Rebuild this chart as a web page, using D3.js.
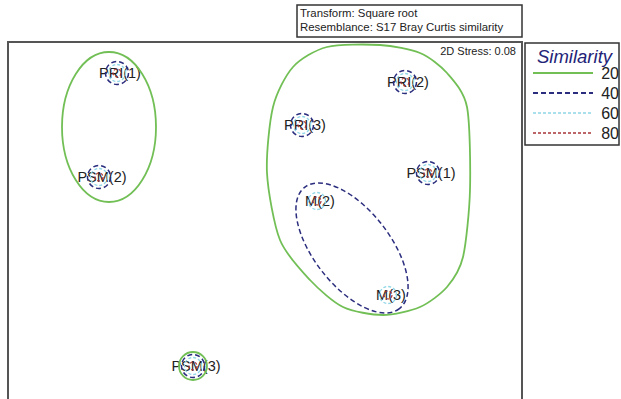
<!DOCTYPE html>
<html>
<head>
<meta charset="utf-8">
<script src="https://cdn.jsdelivr.net/npm/d3@7"></script>
<style>
  html, body { margin: 0; padding: 0; background: #fff; }
  svg { display: block; font-family: "Liberation Sans", Arial, sans-serif; }
</style>
</head>
<body>
<svg id="chart" width="621" height="399"></svg>
<script>
// nMDS ordination coordinates of the samples
const sampleNames = ["PRI(1)", "PSM(2)", "PRI(2)", "PRI(3)", "PSM(1)", "M(2)", "M(3)", "PSM(3)"];
const sampleX = [-1.48, -1.66, 1.40, 0.37, 1.63, 0.52, 1.23, -0.72];
const sampleY = [1.48, 0.44, 1.39, 0.96, 0.48, 0.20, -0.74, -1.45];

// samples that sit alone in their cluster at each similarity level
const single20 = ["PSM(3)"];
const single40 = ["PRI(1)", "PSM(2)", "PRI(2)", "PRI(3)", "PSM(1)", "PSM(3)"];
const single60 = sampleNames;
const single80 = sampleNames;

// 20% group around PRI(1) and PSM(2): ellipse [cx, cy, rx, ry, angle]
const group20a = [-1.56, 0.94, 0.47, 0.75, 0];
// 40% group around M(2) and M(3)
const group40a = [0.87, -0.27, 0.77, 0.38, 52];
// 20% group around PRI(2), PRI(3), PSM(1), M(2), M(3): contour vertices
const group20bX = [0.02, 0.15, 0.45, 0.78, 1.18, 1.55, 1.82, 1.98, 2.05, 2.02, 1.82, 1.55, 1.15, 0.62, 0.28, 0.08];
const group20bY = [0.48, -0.19, -0.59, -0.86, -0.94, -0.86, -0.66, -0.36, 0.31, 1.14, 1.48, 1.68, 1.76, 1.74, 1.54, 1.14];

const levels = ["20", "40", "60", "80"];
const stressText = "2D Stress: 0.08";
const infoLines = ["Transform: Square root", "Resemblance: S17 Bray Curtis similarity"];

const svg = d3.select("#chart");
const frame = { left: 8, top: 42, right: 522, bottom: 399 };

const x = d3.scaleLinear().domain([-2.57, 2.57]).range([frame.left, frame.right]);
const y = d3.scaleLinear().domain([1.79, -1.78]).range([frame.top, frame.bottom]);
const unitPx = x(1) - x(0);

const levelStyle = {
  "20": { stroke: "#72bf56", dash: null, width: 1.8 },
  "40": { stroke: "#2b2d7e", dash: "5,3", width: 1.5 },
  "60": { stroke: "#8fd6e6", dash: "3,2", width: 1.3 },
  "80": { stroke: "#a8353a", dash: "3,2", width: 1.2 }
};
const circleR = { "20": 14, "40": 11.5, "60": 8.5, "80": 4 };

const samples = sampleNames.map((n, i) => ({ name: n, x: sampleX[i], y: sampleY[i] }));
const byName = new Map(samples.map(d => [d.name, d]));

// info box
svg.append("rect").attr("x", 297).attr("y", 5).attr("width", 225).attr("height", 32)
  .attr("fill", "#fff").attr("stroke", "#333").attr("stroke-width", 1.5);
svg.selectAll("text.info").data(infoLines).join("text")
  .attr("class", "info").attr("x", 300).attr("y", (d, i) => 17 + i * 14)
  .attr("font-size", 11.4).attr("fill", "#222").text(d => d);

// plot frame
const plot = svg.append("g");
plot.append("rect").attr("x", frame.left).attr("y", frame.top)
  .attr("width", frame.right - frame.left).attr("height", 420)
  .attr("fill", "#fff").attr("stroke", "#555").attr("stroke-width", 2);

plot.append("text").attr("x", frame.right - 6).attr("y", 55)
  .attr("text-anchor", "end").attr("font-size", 11).attr("fill", "#222").text(stressText);

function styled(sel, lvl) {
  const s = levelStyle[lvl];
  return sel.attr("fill", "none").attr("stroke", s.stroke)
    .attr("stroke-width", s.width).attr("stroke-dasharray", s.dash);
}

function drawEllipse(e, lvl) {
  const [cx, cy, rx, ry, ang] = e;
  styled(plot.append("ellipse")
    .attr("cx", 0).attr("cy", 0)
    .attr("rx", rx * unitPx).attr("ry", ry * unitPx)
    .attr("transform", `translate(${x(cx)},${y(cy)}) rotate(${ang})`), lvl);
}

// sample labels (drawn first so the cluster rings sit on top)
plot.append("g").selectAll("text").data(samples).join("text")
  .attr("x", d => x(d.x) + 3).attr("y", d => y(d.y) + 5)
  .attr("text-anchor", "middle").attr("font-size", 14.5).attr("fill", "#222")
  .text(d => d.name);

drawEllipse(group20a, "20");
drawEllipse(group40a, "40");

const contour = d3.line().x(d => x(d[0])).y(d => y(d[1])).curve(d3.curveCardinalClosed.tension(0.2));
styled(plot.append("path").attr("d", contour(d3.zip(group20bX, group20bY))), "20");

// single-sample clusters drawn as small rings
[["20", single20], ["40", single40], ["60", single60], ["80", single80]].forEach(([lvl, names]) => {
  styled(plot.append("g").selectAll("circle").data(names.map(n => byName.get(n))).join("circle")
    .attr("cx", d => x(d.x)).attr("cy", d => y(d.y)).attr("r", circleR[lvl]), lvl);
});

// legend
const lg = svg.append("g");
lg.append("rect").attr("x", 525).attr("y", 43).attr("width", 94).attr("height", 102)
  .attr("fill", "#fff").attr("stroke", "#333").attr("stroke-width", 1.5);
lg.append("text").attr("x", 537).attr("y", 63).attr("font-size", 18.5)
  .attr("font-style", "italic").attr("fill", "#232378").text("Similarity");
levels.forEach((lvl, i) => {
  const yy = 73 + i * 20;
  const s = levelStyle[lvl];
  lg.append("line").attr("x1", 533).attr("x2", 593).attr("y1", yy).attr("y2", yy)
    .attr("stroke", s.stroke).attr("stroke-width", s.width + 0.4).attr("stroke-dasharray", s.dash);
  lg.append("text").attr("x", 619).attr("y", yy + 6).attr("text-anchor", "end")
    .attr("font-size", 16).attr("fill", "#222").text(lvl);
});
</script>
</body>
</html>
